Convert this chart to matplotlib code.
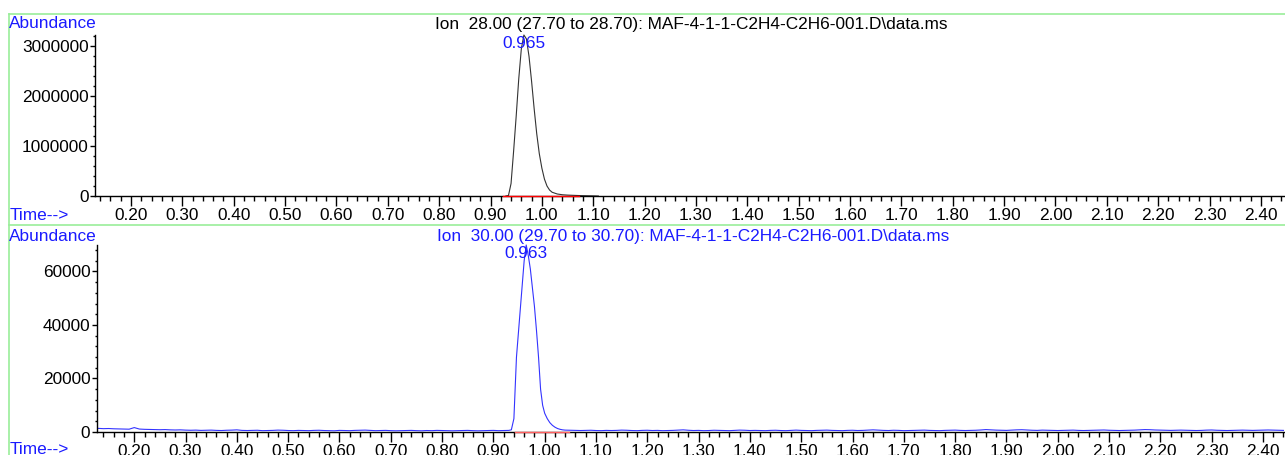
import numpy as np
import matplotlib
matplotlib.use("Agg")
import matplotlib.pyplot as plt
from matplotlib import ticker
from matplotlib.lines import Line2D

plt.rcParams['font.family'] = ['Liberation Sans', 'DejaVu Sans']

# ion 28 trace (black) - time (min) / abundance
t28 = [0.930, 0.935, 0.940, 0.945, 0.950, 0.955, 0.960, 0.965, 0.970, 0.975,
       0.980, 0.985, 0.990, 0.995, 1.000, 1.005, 1.010, 1.015, 1.020, 1.030,
       1.040, 1.050, 1.060, 1.070, 1.080, 1.090, 1.100, 1.110]
a28 = [0, 10000, 250000, 900000, 1600000, 2350000, 2950000, 3230000, 3150000, 2800000,
       2300000, 1750000, 1250000, 850000, 560000, 340000, 200000, 120000, 75000, 40000,
       25000, 18000, 14000, 10000, 7000, 5000, 3000, 0]
rt28 = 0.965
base28 = (0.925, 1.072)

# ion 30 trace (blue)
noise_left = [1350, 1250, 1300, 1200, 1150, 1100, 1050, 1650, 1100, 1000,
              950, 900, 850, 900, 800, 750, 800, 700, 650, 700,
              600, 650, 700, 600, 550, 650, 700, 800, 600, 550,
              600, 650, 500, 550, 600, 700, 650, 550, 500, 600,
              550, 500, 600, 650, 550, 500, 450, 600, 550, 500,
              600, 650, 700, 600, 500, 550, 600, 500, 450, 500,
              550, 600, 500, 450, 550, 500, 600, 550, 500, 450,
              500, 550, 600, 500, 450, 500, 550, 600, 500, 550, 600]
peak30_t = [0.935, 0.940, 0.945, 0.950, 0.955, 0.960, 0.964, 0.968, 0.972, 0.976,
            0.980, 0.984, 0.988, 0.992, 0.996, 1.000, 1.005, 1.010, 1.015, 1.020,
            1.025, 1.030, 1.035]
peak30_a = [800, 5000, 28000, 40000, 52000, 64000, 69900, 66000, 61000, 54000,
            47000, 38000, 28000, 16000, 10000, 7000, 5000, 3500, 2500, 1800,
            1300, 1000, 800]
noise_right = [700, 650, 600, 550, 600, 650, 550, 500, 600, 550,
               600, 700, 650, 550, 500, 600, 650, 550, 600, 500,
               550, 600, 700, 800, 650, 550, 600, 500, 550, 650,
               600, 550, 500, 600, 700, 650, 550, 600, 550, 500,
               600, 650, 550, 500, 600, 700, 600, 550, 500, 600,
               650, 700, 600, 550, 500, 600, 650, 550, 600, 700,
               800, 700, 600, 550, 650, 600, 500, 550, 600, 650,
               700, 600, 550, 500, 600, 650, 700, 600, 550, 600,
               650, 750, 900, 800, 700, 650, 600, 700, 800, 850,
               750, 650, 600, 700, 650, 600, 550, 600, 650, 700,
               600, 550, 600, 650, 700, 750, 650, 600, 550, 600,
               650, 700, 800, 900, 850, 750, 700, 650, 600, 650,
               700, 650, 600, 550, 600, 700, 750, 650, 600, 550,
               600, 650, 700, 650, 600, 650, 700, 750, 700, 650, 600]
rt30 = 0.963
base30 = (0.942, 1.048)

# scan times for the flat parts (0.01 min spacing)
tl = list(np.round(np.arange(0.13, 0.93 + 1e-9, 0.01), 3))
tr = list(np.round(np.arange(1.04, 2.44 + 1e-9, 0.01), 3))
t30 = tl + peak30_t + tr
a30 = noise_left + peak30_a + noise_right

titles = ["Ion  28.00 (27.70 to 28.70): MAF-4-1-1-C2H4-C2H6-001.D\\data.ms",
          "Ion  30.00 (29.70 to 30.70): MAF-4-1-1-C2H4-C2H6-001.D\\data.ms"]

W, H = 1285, 455
fig = plt.figure(figsize=(W / 100, H / 100), dpi=100)

def fx(px):
    return px / W

def fy(py):
    return 1 - py / H

ax1 = fig.add_axes([fx(95), fy(196), 1 - fx(95), fy(35) - fy(196)])
ax2 = fig.add_axes([fx(96.7), fy(432), 1 - fx(96.7), fy(245) - fy(432)])

fs = 12.4
blue = '#1a1aff'

def style(ax, ymaj, xlim, ylim):
    for s in ['top', 'right']:
        ax.spines[s].set_visible(False)
    ax.spines['left'].set_linewidth(1.0)
    ax.spines['bottom'].set_linewidth(1.0)
    ax.set_xlim(*xlim)
    ax.set_ylim(*ylim)
    ax.xaxis.set_major_locator(ticker.MultipleLocator(0.1))
    ax.xaxis.set_minor_locator(ticker.MultipleLocator(0.02))
    ax.xaxis.set_major_formatter(ticker.FormatStrFormatter('%.2f'))
    ax.yaxis.set_major_locator(ticker.MultipleLocator(ymaj))
    ax.yaxis.set_minor_locator(ticker.MultipleLocator(ymaj / 5))
    ax.yaxis.set_major_formatter(ticker.FormatStrFormatter('%d'))
    ax.tick_params(axis='x', which='major', length=7.5, width=1, pad=1, labelsize=fs)
    ax.tick_params(axis='x', which='minor', length=3.8, width=1)
    ax.tick_params(axis='y', which='major', length=3.6, width=1, pad=1, labelsize=fs)
    ax.tick_params(axis='y', which='minor', length=1.6, width=1)

style(ax1, 1000000, (0.1299, 2.447), (0, max(a28)))
style(ax2, 20000, (0.1268, 2.443), (0, max(a30)))

ax1.plot(t28, a28, color='#333333', lw=0.8, clip_on=False)
ax1.plot(base28, [0, 0], color='red', lw=1.0, clip_on=False, zorder=3)
ax2.plot(t30, a30, color='#3333ff', lw=0.8, clip_on=False)
ax2.plot(base30, [0, 0], color='#ff6060', lw=1.0, clip_on=False, zorder=3)

for ax, rt, a in [(ax1, rt28, a28), (ax2, rt30, a30)]:
    ax.annotate(f"{rt:.3f}", xy=(rt, max(a)), xytext=(0, -8), textcoords='offset pixels',
                ha='center', va='center', color=blue, fontsize=fs)

# header texts
fig.text(fx(435), fy(25), titles[0], ha='left', va='center', color='black', fontsize=fs)
fig.text(fx(437), fy(236), titles[1], ha='left', va='center', color=blue, fontsize=fs)
for y in [24, 236]:
    fig.text(fx(9), fy(y), "Abundance", ha='left', va='center', color=blue, fontsize=fs)
for y in [215, 449]:
    fig.text(fx(10), fy(y), "Time-->", ha='left', va='center', color=blue, fontsize=fs)

# green panel frames
green = '#99ee99'
fig.add_artist(Line2D([fx(9), fx(1285)], [fy(14), fy(14)], color=green, lw=1.2))
fig.add_artist(Line2D([fx(9), fx(1285)], [fy(224.5), fy(224.5)], color=green, lw=1.2))
fig.add_artist(Line2D([fx(9), fx(9)], [fy(14), 0], color=green, lw=1.2))

fig.savefig("out.png", dpi=100)
